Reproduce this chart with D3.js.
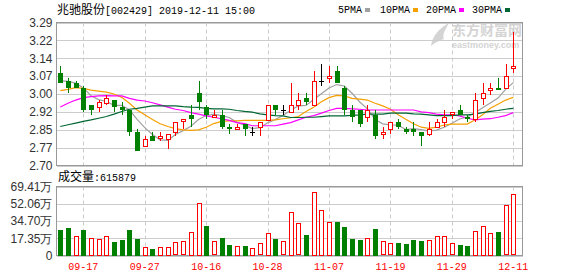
<!DOCTYPE html>
<html>
<head>
<meta charset="utf-8">
<script src="https://cdn.jsdelivr.net/npm/d3@7/dist/d3.min.js"></script>
<style>
body { margin: 0; background: #fff; }
svg { display: block; }
</style>
</head>
<body>
<div id="chart-area"></div>
<script>
// trading days shown (2019)
var dates = ['09-11','09-12','09-16','09-17','09-18','09-19','09-20','09-23','09-24','09-25','09-26','09-27','09-30',
    '10-08','10-09','10-10','10-11','10-14','10-15','10-16','10-17','10-18','10-21','10-22','10-23','10-24','10-25','10-28','10-29','10-30','10-31',
    '11-01','11-04','11-05','11-06','11-07','11-08','11-11','11-12','11-13','11-14','11-15','11-18','11-19','11-20','11-21','11-22','11-25','11-26','11-27','11-28','11-29',
    '12-02','12-03','12-04','12-05','12-06','12-09','12-10','12-11'];

var opens  = [3.08,3.05,3.04,3.02,2.95,2.94,2.96,2.97,2.94,2.93, 2.84,2.78,2.82,2.81,2.81,2.84,2.88,2.91,3.00,2.94,
              2.90,2.91,2.86,2.85,2.87,2.84,2.86,2.89,2.95,2.93, 2.92,2.95,2.98,2.95,3.05,3.06,3.09,3.02,2.93,2.93,
              2.90,2.91,2.83,2.85,2.88,2.85,2.85,2.84,2.83,2.86, 2.88,2.91,2.93,2.90,2.89,2.98,3.01,3.02,3.02,3.10];
var highs  = [3.11,3.06,3.05,3.03,2.95,2.97,2.99,2.97,2.96,2.93, 2.85,2.82,2.84,2.84,2.83,2.88,2.89,2.95,3.05,2.95,
              2.93,2.93,2.87,2.87,2.87,2.86,2.88,2.95,2.95,2.95, 3.04,3.00,3.00,3.09,3.12,3.11,3.11,3.03,2.95,2.93,
              2.95,2.93,2.86,2.88,2.89,2.86,2.88,2.84,2.88,2.89, 2.93,2.92,2.95,2.91,3.00,3.04,3.04,3.06,3.12,3.25];
var lows   = [3.04,3.00,3.02,2.92,2.91,2.92,2.95,2.92,2.91,2.82, 2.76,2.78,2.80,2.80,2.77,2.82,2.85,2.86,2.93,2.89,
              2.90,2.85,2.83,2.85,2.82,2.82,2.82,2.89,2.91,2.91, 2.92,2.93,2.95,2.95,3.03,3.04,3.04,2.91,2.88,2.86,
              2.88,2.81,2.81,2.83,2.85,2.83,2.82,2.78,2.82,2.86, 2.86,2.89,2.91,2.88,2.88,2.95,2.99,3.01,3.02,3.08];
var closes = [3.04,3.02,3.02,2.93,2.93,2.96,2.98,2.94,2.93,2.84, 2.76,2.81,2.80,2.82,2.83,2.88,2.89,2.89,2.96,2.91,
              2.91,2.86,2.85,2.86,2.85,2.84,2.88,2.95,2.93,2.93, 2.95,2.97,2.96,3.05,3.05,3.07,3.04,2.93,2.90,2.87,
              2.93,2.82,2.84,2.88,2.86,2.84,2.84,2.82,2.85,2.88, 2.90,2.92,2.91,2.89,2.97,3.00,3.02,3.01,3.07,3.11];

// volume in 万, and whether the bar is drawn red (1) or green (0)
var volumes = [25.2,27.2,19.8,25.2,17.8,16.8,19.8,13.1,15.1,25.8, 16.1,8.7,7.0,8.7,8.7,13.1,14.1,23.8,53.0,29.2,
               14.1,18.1,10.1,9.7,9.1,8.0,12.1,23.1,16.1,14.1, 44.0,32.2,21.1,64.1,46.0,33.9,33.2,28.2,17.1,15.1,
               17.8,26.2,14.1,12.1,12.1,11.1,15.1,14.1,15.8,19.8, 19.8,12.1,10.1,9.1,24.8,29.9,23.1,24.1,50.3,61.59];
var volUp = [0,0,1,0,1,1,1,0,0,0, 0,1,0,1,1,1,1,1,1,0, 1,0,0,1,0,1,1,1,0,1,
             1,1,0,1,1,1,0,0,0,0, 1,0,1,1,0,0,0,0,1,1, 1,1,0,0,1,1,1,0,1,1];

var ma5  = [3.05,3.047,3.04,3.02,2.988,2.972,2.964,2.948,2.948,2.930, 2.890,2.856,2.828,2.806,2.804,2.828,2.844,2.862,2.890,2.906,
            2.912,2.906,2.898,2.878,2.866,2.852,2.856,2.876,2.890,2.906, 2.928,2.946,2.948,2.972,2.996,3.020,3.034,3.028,2.998,2.962,
            2.934,2.890,2.872,2.868,2.866,2.848,2.852,2.848,2.842,2.846, 2.858,2.874,2.892,2.900,2.918,2.938,2.958,2.978,3.014,3.042];
var ma10 = [3.009,3.014,3.021,3.018,3.011,3.007,3.003,2.995,2.981,2.957, 2.929,2.909,2.890,2.872,2.861,2.852,2.847,2.845,2.847,2.858,
            2.873,2.882,2.884,2.884,2.886,2.886,2.886,2.886,2.888,2.893, 2.897,2.902,2.923,2.940,2.963,2.980,2.989,2.987,2.977,2.974,
            2.970,2.957,2.946,2.932,2.909,2.891,2.872,2.858,2.853,2.858, 2.867,2.871,2.871,2.871,2.888,2.909,2.936,2.953,2.970,2.981];
var ma20 = [2.941,2.957,2.970,2.980,2.984,2.987,2.988,2.987,2.987,2.977, 2.970,2.966,2.959,2.950,2.941,2.932,2.927,2.918,2.912,2.905,
            2.899,2.893,2.886,2.877,2.873,2.864,2.864,2.864,2.864,2.871, 2.877,2.888,2.899,2.906,2.916,2.927,2.936,2.936,2.934,2.932,
            2.929,2.929,2.929,2.929,2.929,2.929,2.929,2.921,2.918,2.912, 2.909,2.909,2.905,2.895,2.888,2.891,2.893,2.899,2.906,2.918];
var ma30 = [2.861,2.868,2.875,2.882,2.888,2.895,2.902,2.912,2.923,2.932, 2.936,2.941,2.946,2.946,2.946,2.946,2.943,2.941,2.940,2.936,
            2.934,2.934,2.932,2.927,2.923,2.920,2.913,2.909,2.906,2.905, 2.898,2.898,2.899,2.899,2.902,2.905,2.905,2.905,2.907,2.909,
            2.912,2.912,2.912,2.916,2.916,2.916,2.913,2.912,2.909,2.906, 2.906,2.906,2.909,2.909,2.912,2.918,2.923,2.927,2.932,2.936];

var priceTicks  = [2.70, 2.77375, 2.8475, 2.92125, 2.995, 3.06875, 3.1425, 3.21625, 3.29];
var priceLabels = ['2.70','2.77','2.85','2.92','3.00','3.07','3.14','3.22','3.29'];
var volTicks    = [0, 17.3525, 34.705, 52.0575, 69.41];
var volLabels   = ['0','17.35万','34.70万','52.06万','69.41万'];
var xTickLabels = ['09-17','09-27','10-16','10-28','11-07','11-19','11-29','12-11'];

var maNames  = ['5PMA','10PMA','20PMA','30PMA'];
var maColors = ['#a0a0a0','#f5a000','#ff00ff','#006633'];

var W = 578, H = 276;
var left = 56.5, right = 522.5;
var pTop = 22.5, pBottom = 165.5;
var vTop = 186.5, vBottom = 255.5;

var svg = d3.select("#chart-area")
    .append("svg")
        .attr("width", W)
        .attr("height", H);

var x = d3.scalePoint()
    .domain(dates)
    .range([60.3, 513.3]);
var px = function(i) { return Math.round(x(dates[i])); };

var y = d3.scaleLinear()
    .domain([2.70, 3.29])
    .range([pBottom, pTop]);

var yv = d3.scaleLinear()
    .domain([0, 69.41])
    .range([vBottom, vTop]);

var numFont = "'Liberation Sans', Arial, sans-serif";
var monoFont = "'Liberation Mono', 'DejaVu Sans Mono', monospace";
var cjkFont = "'Noto Sans CJK SC', sans-serif";

// watermark
var wm = svg.append("g").attr("fill", "#d4d4d4");
wm.append("text").attr("x", 452).attr("y", 35)
    .style("font-family", cjkFont).style("font-size", "14px").style("font-weight", "bold")
    .text("东方财富网");
wm.append("text").attr("x", 452).attr("y", 48)
    .style("font-family", numFont).style("font-size", "9px").style("font-weight", "bold")
    .text("eastmoney.com");
wm.append("path")
    .attr("d", "M431,46 C432,37 439,28 449,23 C445,30 442,35 444,39 C440,40 436,42 431,46 Z")
    .attr("fill", "#d4d4d4");

// horizontal grid + y labels (price)
var yAxis = d3.axisLeft(y)
    .tickValues(priceTicks)
    .tickFormat(function(d, i) { return priceLabels[i]; })
    .tickSize(-(right - left))
    .tickPadding(4);
var gy = svg.append("g").attr("transform", "translate(" + left + ",0)").call(yAxis);
gy.select(".domain").remove();
gy.selectAll("line").attr("stroke", "#cccccc").attr("shape-rendering", "crispEdges");
gy.selectAll("text").attr("fill", "#333").style("font-family", numFont).style("font-size", "12px");

// horizontal grid + y labels (volume)
var vAxis = d3.axisLeft(yv)
    .tickValues(volTicks)
    .tickFormat(function(d, i) { return volLabels[i]; })
    .tickSize(-(right - left))
    .tickPadding(4);
var gv = svg.append("g").attr("transform", "translate(" + left + ",0)").call(vAxis);
gv.select(".domain").remove();
gv.selectAll("line").attr("stroke", "#cccccc").attr("shape-rendering", "crispEdges");
gv.selectAll("text").attr("fill", "#333").style("font-family", numFont).style("font-size", "12px");

// vertical dashed grid
[[pTop, pBottom], [vTop, vBottom]].forEach(function(r) {
    svg.append("g").selectAll("line")
        .data(xTickLabels)
        .enter().append("line")
        .attr("x1", function(d) { return Math.round(x(d)) + 0.5; })
        .attr("x2", function(d) { return Math.round(x(d)) + 0.5; })
        .attr("y1", r[0]).attr("y2", r[1])
        .attr("stroke", "#cccccc")
        .attr("stroke-dasharray", "4,3");
});

// x labels
svg.append("g").selectAll("text")
    .data(xTickLabels)
    .enter().append("text")
    .attr("x", function(d) { return x(d); })
    .attr("y", 270)
    .attr("text-anchor", "middle")
    .attr("fill", "#ff0000")
    .style("font-family", monoFont)
    .style("font-size", "10px")
    .text(function(d) { return d; });

// frames
[[pTop, pBottom], [vTop, vBottom]].forEach(function(r) {
    svg.append("rect")
        .attr("x", left).attr("y", r[0])
        .attr("width", right - left).attr("height", r[1] - r[0])
        .attr("fill", "none").attr("stroke", "#999")
        .attr("shape-rendering", "crispEdges");
});

// moving averages
[ma5, ma10, ma20, ma30].forEach(function(arr, k) {
    var line = d3.line()
        .x(function(d, i) { return x(dates[i]); })
        .y(function(d) { return y(d); });
    svg.append("path")
        .datum(arr)
        .attr("d", line)
        .attr("fill", "none")
        .attr("stroke", maColors[k])
        .attr("stroke-width", 1.2);
});

// candles
var candles = svg.append("g").attr("shape-rendering", "crispEdges");
dates.forEach(function(d, i) {
    var o = opens[i], c = closes[i];
    var col = c > o ? "#ff0000" : (c < o ? "#008000" : "#000000");
    var cx = px(i);
    candles.append("line")
        .attr("x1", cx + 0.5).attr("x2", cx + 0.5)
        .attr("y1", y(highs[i])).attr("y2", y(lows[i]))
        .attr("stroke", col);
    var top = y(Math.max(o, c)), bot = y(Math.min(o, c));
    if (c > o) {
        candles.append("rect")
            .attr("x", cx - 1.5).attr("y", Math.round(top) + 0.5)
            .attr("width", 4).attr("height", Math.max(1, Math.round(bot - top)))
            .attr("fill", "#fff").attr("stroke", col);
    } else if (c < o) {
        candles.append("rect")
            .attr("x", cx - 2).attr("y", top)
            .attr("width", 5).attr("height", Math.max(1.5, bot - top))
            .attr("fill", col);
    } else {
        candles.append("line")
            .attr("x1", cx - 2).attr("x2", cx + 3)
            .attr("y1", Math.round(top) + 0.5).attr("y2", Math.round(top) + 0.5)
            .attr("stroke", col);
    }
});

// volume bars
var vb = svg.append("g").attr("shape-rendering", "crispEdges");
vb.selectAll("rect")
    .data(volumes)
    .enter().append("rect")
    .attr("x", function(d, i) { return volUp[i] ? px(i) - 1.5 : px(i) - 2; })
    .attr("y", function(d, i) { return volUp[i] ? Math.round(yv(d)) + 0.5 : yv(d); })
    .attr("width", function(d, i) { return volUp[i] ? 4 : 5; })
    .attr("height", function(d, i) { return volUp[i] ? Math.round(vBottom - yv(d)) - 1 : vBottom - yv(d); })
    .attr("fill", function(d, i) { return volUp[i] ? "#fff" : "#008000"; })
    .attr("stroke", function(d, i) { return volUp[i] ? "#ff0000" : "none"; });

// title
var title = svg.append("text").attr("x", 57).attr("y", 14).attr("fill", "#000");
title.append("tspan").style("font-family", cjkFont).style("font-size", "12px").text("兆驰股份");
title.append("tspan").style("font-family", monoFont).style("font-size", "10px").text("[002429] 2019-12-11 15:00");

// legend
var legX = [338, 380, 426, 472];
maNames.forEach(function(n, k) {
    var t = svg.append("text").attr("x", legX[k]).attr("y", 13)
        .style("font-family", monoFont).style("font-size", "10px")
        .attr("fill", "#000").text(n);
    var w = t.node().getComputedTextLength();
    svg.append("rect")
        .attr("x", legX[k] + w + 3).attr("y", 8)
        .attr("width", 5).attr("height", 4)
        .attr("fill", maColors[k]);
});

// volume caption
var cap = svg.append("text").attr("x", 58).attr("y", 181).attr("fill", "#000");
cap.append("tspan").style("font-family", cjkFont).style("font-size", "12px").text("成交量");
cap.append("tspan").style("font-family", monoFont).style("font-size", "10px").text(":615879");
</script>
</body>
</html>
